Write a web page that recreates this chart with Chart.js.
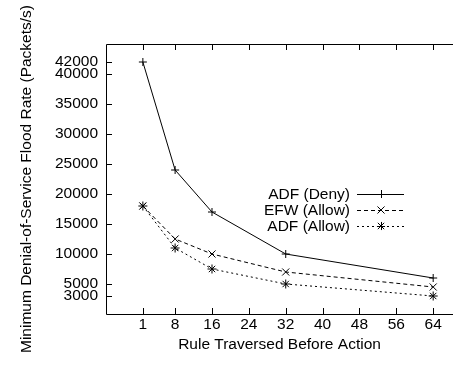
<!DOCTYPE html>
<html>
<head>
<meta charset="utf-8">
<script src="https://cdn.jsdelivr.net/npm/chart.js@4"></script>
<style>
  html, body { margin: 0; padding: 0; background: #fff; }
  #wrap { width: 453px; height: 366px; }
</style>
</head>
<body>
<div id="wrap"><canvas id="chart"></canvas></div>
<script>
const rules = [1, 8, 16, 32, 64];
const adfDeny = [42000, 24000, 17000, 10000, 6000];
const efwAllow = [18000, 12500, 10000, 7000, 4500];
const adfAllow = [18000, 11000, 7500, 5000, 3000];
const xTicks = [1, 8, 16, 24, 32, 40, 48, 56, 64];
const yTicks = [3000, 5000, 10000, 15000, 20000, 25000, 30000, 35000, 40000, 42000];

const FONT = "'Liberation Sans', Arial, Helvetica, sans-serif";
const FSIZE = 15.5;

const toPoints = (ys) => rules.map((x, i) => ({ x: x, y: ys[i] }));

// gnuplot style frame with ticks pointing inside
const gnuFrame = {
  id: "gnuFrame",
  afterDraw(chart) {
    const { ctx, chartArea: a } = chart;
    const xs = chart.scales.x;
    const ys = chart.scales.y;
    ctx.save();
    ctx.strokeStyle = "#000";
    ctx.lineWidth = 1;
    ctx.beginPath();
    ctx.moveTo(a.right + 1, a.top + 0.5);
    ctx.lineTo(a.left + 0.5, a.top + 0.5);
    ctx.lineTo(a.left + 0.5, a.bottom + 0.5);
    ctx.lineTo(a.right + 1, a.bottom + 0.5);
    xs.ticks.forEach((t) => {
      const px = Math.round(xs.getPixelForValue(t.value)) + 0.5;
      ctx.moveTo(px, a.bottom);
      ctx.lineTo(px, a.bottom - 6);
      ctx.moveTo(px, a.top);
      ctx.lineTo(px, a.top + 6);
    });
    ys.ticks.forEach((t) => {
      const py = Math.round(ys.getPixelForValue(t.value)) + 0.5;
      ctx.moveTo(a.left, py);
      ctx.lineTo(a.left + 6, py);
    });
    ctx.stroke();

    // legend inside the plot, text right aligned, samples on the right
    ctx.font = FSIZE + "px " + FONT;
    ctx.fillStyle = "#000";
    ctx.textAlign = "right";
    ctx.textBaseline = "middle";
    chart.data.datasets.forEach((ds, i) => {
      const y = 194 + i * 16;
      ctx.fillText(ds.label, 350, y + 1);
      ctx.setLineDash(ds.borderDash || []);
      ctx.beginPath();
      ctx.moveTo(357, y + 0.5);
      ctx.lineTo(404, y + 0.5);
      ctx.stroke();
      ctx.setLineDash([]);
      const cx = 381, r = ds.pointRadius;
      ctx.beginPath();
      if (ds.pointStyle === "cross" || ds.pointStyle === "star") {
        const rr = ds.pointStyle === "star" ? r * 0.9 : r;
        ctx.moveTo(cx - rr, y + 0.5); ctx.lineTo(cx + rr, y + 0.5);
        ctx.moveTo(cx + 0.5, y - rr); ctx.lineTo(cx + 0.5, y + rr);
      }
      if (ds.pointStyle === "crossRot" || ds.pointStyle === "star") {
        const d = r * 0.707;
        ctx.moveTo(cx - d, y - d); ctx.lineTo(cx + d, y + d);
        ctx.moveTo(cx - d, y + d); ctx.lineTo(cx + d, y - d);
      }
      ctx.stroke();
    });
    ctx.restore();
  },
};

const data = {
  datasets: [
    {
      label: "ADF (Deny)",
      data: toPoints(adfDeny),
      borderColor: "#000",
      borderWidth: 1,
      pointStyle: "cross",
      pointRadius: 4,
      pointBorderColor: "#000",
      pointBorderWidth: 1,
    },
    {
      label: "EFW (Allow)",
      data: toPoints(efwAllow),
      borderColor: "#000",
      borderWidth: 1,
      borderDash: [4, 3],
      pointStyle: "crossRot",
      pointRadius: 5,
      pointBorderColor: "#000",
      pointBorderWidth: 1,
    },
    {
      label: "ADF (Allow)",
      data: toPoints(adfAllow),
      borderColor: "#000",
      borderWidth: 1,
      borderDash: [2, 3],
      pointStyle: "star",
      pointRadius: 4.5,
      pointBorderColor: "#000",
      pointBorderWidth: 1,
    },
  ],
};

const options = {
  animation: false,
  responsive: true,
  maintainAspectRatio: false,
  layout: {
    autoPadding: false,
    padding: { top: 44, right: 0, left: 0, bottom: 0 },
  },
  plugins: {
    legend: { display: false },
    tooltip: { enabled: false },
  },
  scales: {
    x: {
      type: "linear",
      min: -7,
      max: 68.3,
      afterBuildTicks: (scale) => {
        scale.ticks = xTicks.map((v) => ({ value: v }));
      },
      afterFit: (scale) => {
        scale.height = 52;
        scale.paddingLeft = 0;
        scale.paddingRight = 0;
      },
      grid: { display: false, drawTicks: false },
      border: { display: false },
      ticks: {
        autoSkip: false,
        maxRotation: 0,
        padding: 1,
        color: "#000",
        font: { family: FONT, size: FSIZE },
      },
      title: {
        display: true,
        text: "Rule Traversed Before Action",
        color: "#000",
        font: { family: FONT, size: FSIZE },
        padding: { top: 0, bottom: 12 },
      },
    },
    y: {
      min: 0,
      max: 45000,
      afterBuildTicks: (scale) => {
        scale.ticks = yTicks.map((v) => ({ value: v }));
      },
      afterFit: (scale) => {
        scale.width = 106;
      },
      grid: { display: false, drawTicks: false },
      border: { display: false },
      ticks: {
        autoSkip: false,
        padding: 8,
        color: "#000",
        font: { family: FONT, size: FSIZE, lineHeight: 1 },
        callback: (v) => String(v),
      },
      title: {
        display: true,
        text: "Minimum Denial-of-Service Flood Rate (Packets/s)",
        color: "#000",
        font: { family: FONT, size: FSIZE },
        padding: { top: 17, bottom: 0 },
      },
    },
  },
};

const chart = new Chart(document.getElementById("chart"), {
  type: "line",
  data: data,
  options: options,
  plugins: [gnuFrame],
});
</script>
</body>
</html>
